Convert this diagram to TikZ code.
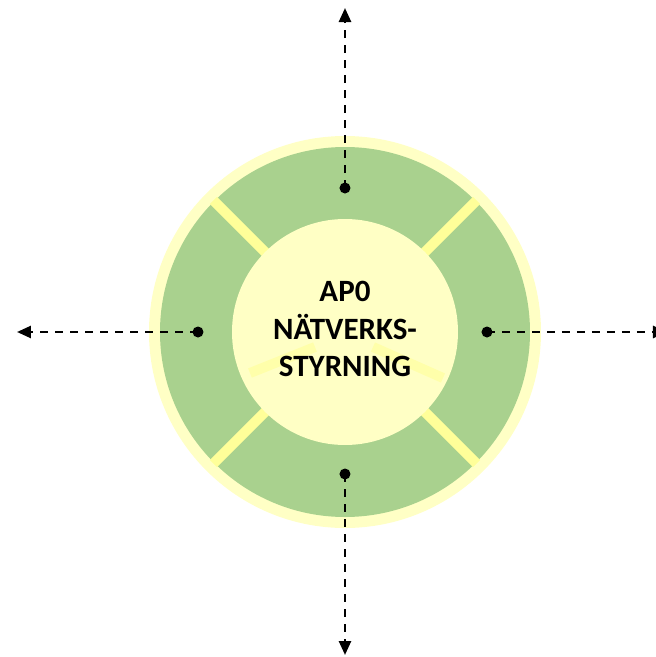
\documentclass[tikz,border=0pt]{standalone}
\usepackage{fontspec}
\setmainfont{Carlito}
\usepackage{tikz}
\usetikzlibrary{positioning, arrows.meta}
\definecolor{ringgreen}{RGB}{169,209,142}
\definecolor{paleyellow}{RGB}{255,255,197}
\definecolor{baryellow}{RGB}{255,255,153}
\definecolor{faintyellow}{RGB}{255,255,170}

\begin{document}
\begin{tikzpicture}[x=1pt, y=1pt]
	\tikzstyle{dot} = [circle, fill=black, inner sep=0pt, minimum size=11pt]
	\tikzstyle{link} = [line width=2.5pt, dash pattern=on 8pt off 7pt, -{Triangle[length=14pt, width=12pt]}]
	\tikzstyle{spoke} = [line width=10pt, baryellow]
	\tikzstyle{ghost} = [line width=10pt, faintyellow]

	\useasboundingbox (-345,-325) rectangle (311,332);

	% ring
	\fill[paleyellow] (0,0) circle (196);
	\fill[ringgreen] (0,0) circle (185);
	\foreach \a in {45, 135, 225, 315}
		\draw[spoke] (\a:110) -- (\a:186);
	\fill[paleyellow] (0,0) circle (113);
	\draw[ghost] (-95,-41) -- (-30,-15);
	\draw[ghost] (28,-15) -- (98,-46);

	\node (core) at (0,3) [align=center, font=\bfseries\fontsize{31}{37.5}\selectfont] {AP0\\NÄTVERKS-\\STYRNING};

	\node (n) [dot] at (0,144) {};
	\node (s) [dot] at (0,-142) {};
	\node (w) [dot] at (-147,0) {};
	\node (e) [dot] at (142,0) {};

	\coordinate (nEnd) at (0,324);
	\coordinate (sEnd) at (0,-323);
	\coordinate (wEnd) at (-328,0);
	\coordinate (eEnd) at (322,0);

	\draw[link] (n.center) -- (nEnd);
	\draw[link] (s.center) -- (sEnd);
	\draw[link] (w.center) -- (wEnd);
	\draw[link] (e.center) -- (eEnd);
\end{tikzpicture}
\end{document}
